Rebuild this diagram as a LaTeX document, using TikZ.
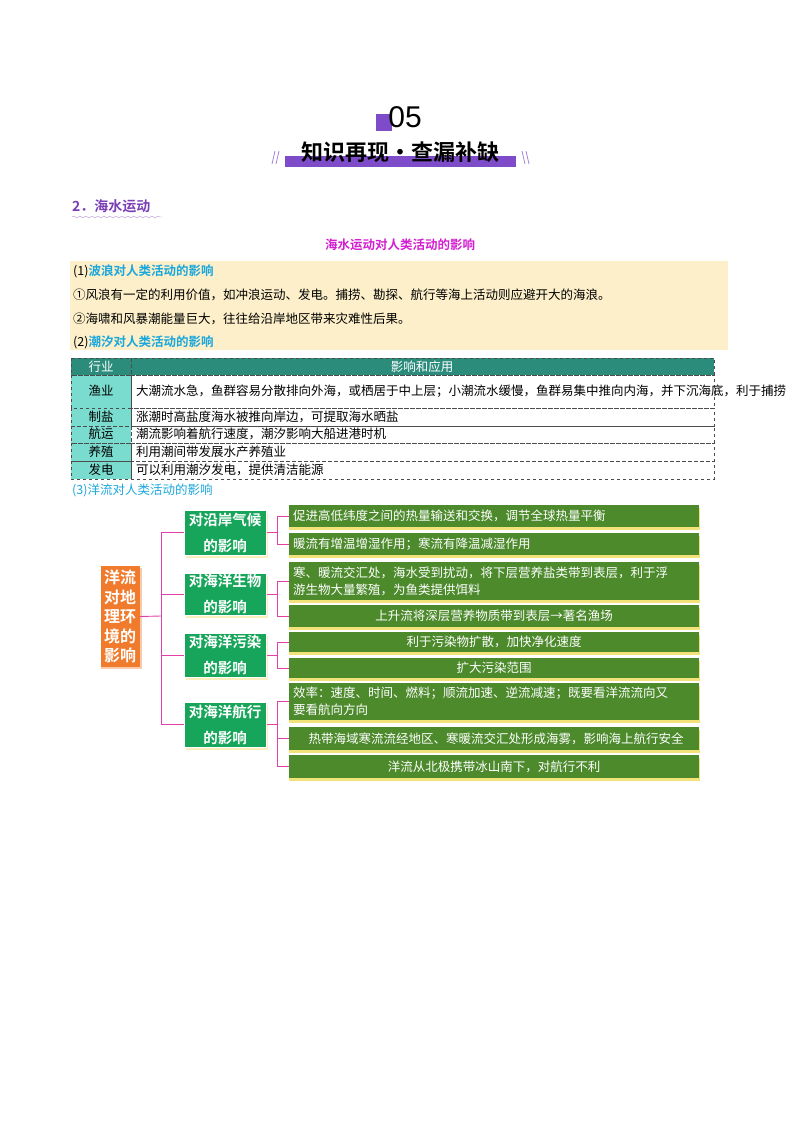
\documentclass[tikz,border=0pt]{standalone}
\usepackage{fontspec}
\setmainfont{Liberation Sans}
\newfontfamily\cjk{Noto Sans CJK SC}
\newfontfamily\cjkb{Noto Sans CJK SC Bold}
\usetikzlibrary{decorations.pathmorphing}
\definecolor{purp}{HTML}{7E4CC9}
\definecolor{secp}{HTML}{7A3FB5}
\definecolor{mag}{HTML}{D21FD0}
\definecolor{cyanT}{HTML}{1AA7DC}
\definecolor{yel}{HTML}{FCEFC9}
\definecolor{teal}{HTML}{2C8C7C}
\definecolor{turq}{HTML}{7ADCCF}
\definecolor{orng}{HTML}{F07B2C}
\definecolor{gmid}{HTML}{16A55A}
\definecolor{olive}{HTML}{4C8A2C}
\definecolor{shad}{HTML}{F2E27A}
\definecolor{pinkL}{HTML}{E23FA8}
\tikzset{
 body/.style={anchor=west,inner sep=0pt,font=\cjk\fontsize{12.5}{15}\selectfont},
 cell/.style={draw=black!70,dashed,line width=0.7pt},
 rbox/.style={fill=olive,draw=none},
 rtxt/.style={text=white,font=\cjk\fontsize{12.5}{17}\selectfont,inner sep=0pt},
 mbox/.style={fill=gmid,draw=white,line width=1pt,text=white,font=\cjkb\fontsize{14.5}{26}\selectfont,align=center,inner sep=0pt},
 link/.style={draw=pinkL,line width=0.9pt}
}
\begin{document}
\begin{tikzpicture}[x=1pt,y=-1pt]
\useasboundingbox (0,0) rectangle (800,1132);
% header
\fill[purp] (376,114) rectangle (392,131);
\node[font=\fontsize{30}{30}\selectfont,inner sep=0pt] (num) at (405,117) {05};
\fill[purp] (285,156) rectangle (516,167);
\node[font=\cjkb\fontsize{22}{22}\selectfont,inner sep=0pt] (ttl) at (400,152) {知识再现·查漏补缺};
\draw[purp!70,line width=0.8pt] (272,164)--(275,151) (276,164)--(279,151) (522,151)--(525,164) (526,151)--(529,164);
% section
\node[anchor=west,text=secp,font=\cjkb\fontsize{14}{14}\selectfont,inner sep=0pt] (sec) at (72,206) {2．海水运动};
\draw[secp!60,decorate,decoration={snake,amplitude=1pt,segment length=6pt}] (72,217)--(162,217);
\node[text=mag,font=\cjkb\fontsize{12.5}{12}\selectfont,inner sep=0pt] (sub) at (400,245) {海水运动对人类活动的影响};
% yellow box
\fill[yel] (70,261) rectangle (728,350);
\node[body] (w0) at (73,271) {(1)\textcolor{cyanT}{\cjkb 波浪对人类活动的影响}};
\node[body] (w1) at (73,295) {①风浪有一定的利用价值，如冲浪运动、发电。捕捞、勘探、航行等海上活动则应避开大的海浪。};
\node[body] (w2) at (73,319) {②海啸和风暴潮能量巨大，往往给沿岸地区带来灾难性后果。};
\node[body] (w3) at (73,342) {(2)\textcolor{cyanT}{\cjkb 潮汐对人类活动的影响}};
% table
\fill[teal] (71,358) rectangle (714,375);
\fill[turq] (71,375) rectangle (131,479);
\foreach \a/\b in {358/375,375/408,408/426,426/443,443/461,461/479}{
 \draw[cell] (71,\a) rectangle (131,\b);
 \draw[cell] (131,\a) rectangle (714,\b);}
\node[text=white,font=\cjk\fontsize{12.5}{12}\selectfont] (h1) at (101,367) {行业};
\node[text=white,font=\cjk\fontsize{12.5}{12}\selectfont] (h2) at (422,367) {影响和应用};
\foreach \n/\y/\t in {r1/391/渔业,r2/417/制盐,r3/434/航运,r4/452/养殖,r5/470/发电}
 \node[font=\cjk\fontsize{12.5}{12}\selectfont] (\n) at (101,\y) {\t};
\node[body,text width=575pt,font=\cjk\fontsize{12.5}{15.5}\selectfont] (t1) at (136,391) {大潮流水急，鱼群容易分散排向外海，或栖居于中上层；小潮流水缓慢，鱼群易集中推向内海，并下沉海底，利于捕捞};
\node[body] (t2) at (136,417) {涨潮时高盐度海水被推向岸边，可提取海水晒盐};
\node[body] (t3) at (136,434) {潮流影响着航行速度，潮汐影响大船进港时机};
\node[body] (t4) at (136,452) {利用潮间带发展水产养殖业};
\node[body] (t5) at (136,470) {可以利用潮汐发电，提供清洁能源};
\node[body,text=cyanT] (s3) at (72,490) {(3)洋流对人类活动的影响};
% mind map
\fill[orng!40] (101,568) rectangle (142,669);
\node[fill=orng,minimum width=39pt,minimum height=101pt,text=white,font=\cjkb\fontsize{16}{19.5}\selectfont,align=center,inner sep=0pt] (root) at (120,616.5) {洋流\\对地\\理环\\境的\\影响};
\coordinate (spine) at (161,616);
\draw[link] (root.east)--(spine);
\draw[link] (161,533)--(161,724);
\foreach \n/\y/\h/\t in {m1/532.5/45/对沿岸气候\\的影响,m2/594/42/对海洋生物\\的影响,m3/655/44/对海洋污染\\的影响,m4/724.5/45/对海洋航行\\的影响}{
 \fill[shad!50] (186,\y-\h/2+3) rectangle (268,\y+\h/2+3);
 \node[mbox,minimum width=82pt,minimum height=\h pt] (\n) at (225,\y) {\t};
 \draw[link] (161,\y)--(\n.west);
}
% right boxes
\foreach \n/\a/\b in {b1/505/527,b2/533/555,b3/562/600,b4/605/627,b5/632/652,b6/658/678,b7/683/720,b8/727/750,b9/755/778}{
 \fill[shad] (289,\a+2.5) rectangle (700,\b+2.5);
 \fill[rbox] (289,\a) rectangle (699,\b);
 \coordinate (\n) at (289,{(\a+\b)/2});
}
\node[rtxt,anchor=west] at (293,516) {促进高低纬度之间的热量输送和交换，调节全球热量平衡};
\node[rtxt,anchor=west] at (293,544) {暖流有增温增湿作用；寒流有降温减湿作用};
\node[rtxt,anchor=west,align=left] at (293,581) {寒、暖流交汇处，海水受到扰动，将下层营养盐类带到表层，利于浮\\游生物大量繁殖，为鱼类提供饵料};
\node[rtxt] at (494,616) {上升流将深层营养物质带到表层→著名渔场};
\node[rtxt] at (494,642) {利于污染物扩散，加快净化速度};
\node[rtxt] at (494,668) {扩大污染范围};
\node[rtxt,anchor=west,align=left] at (293,701.5) {效率：速度、时间、燃料；顺流加速、逆流减速；既要看洋流流向又\\要看航向方向};
\node[rtxt] at (496,738.5) {热带海域寒流流经地区、寒暖流交汇处形成海雾，影响海上航行安全};
\node[rtxt] at (494,766.5) {洋流从北极携带冰山南下，对航行不利};
% mid to right links
\draw[link] (m1.east)--(277,532.5) (277,516)--(277,544) (277,516)--(b1) (277,544)--(b2);
\draw[link] (m2.east)--(277,594) (277,581)--(277,616) (277,581)--(b3) (277,616)--(b4);
\draw[link] (m3.east)--(277,655) (277,642)--(277,668) (277,642)--(b5) (277,668)--(b6);
\draw[link] (m4.east)--(277,724.5) (277,701.5)--(277,766.5) (277,701.5)--(b7) (277,738.5)--(b8) (277,766.5)--(b9);
\end{tikzpicture}
\end{document}
